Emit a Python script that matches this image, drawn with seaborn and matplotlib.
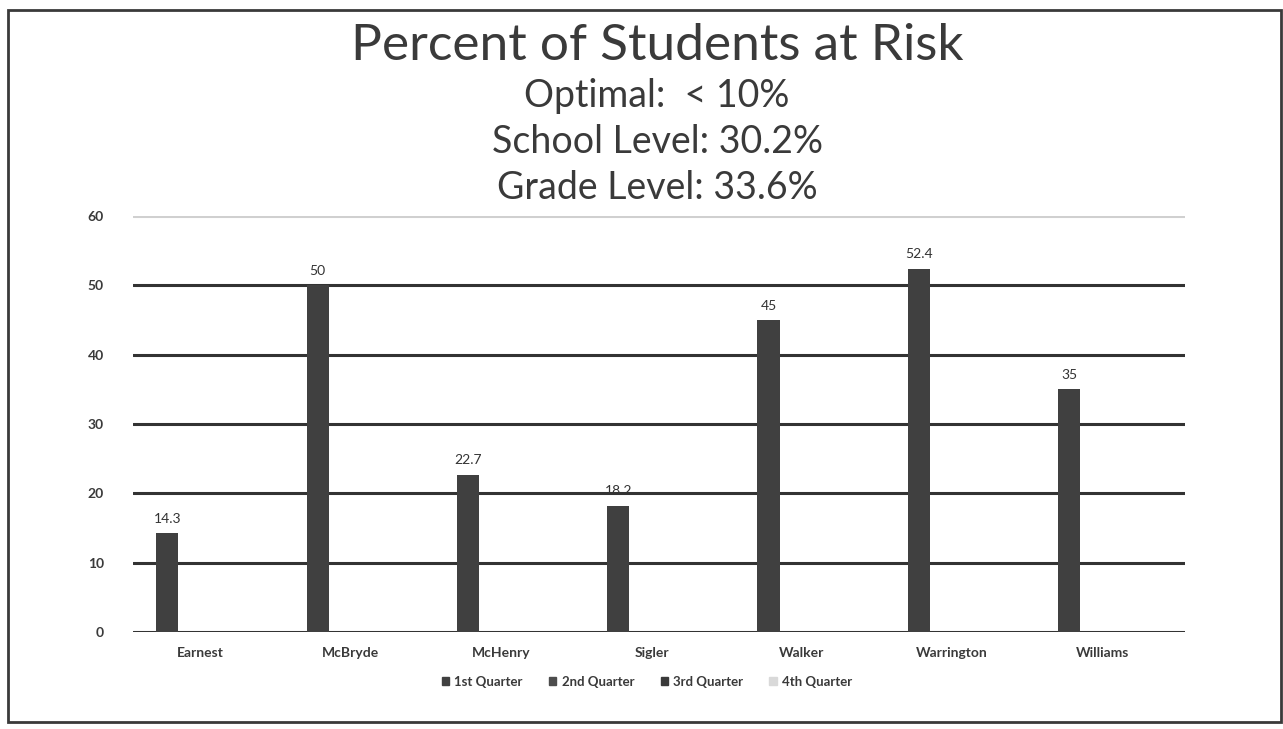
import matplotlib
matplotlib.use("Agg")
import matplotlib.pyplot as plt
import matplotlib.patches as mpatches
import numpy as np
import pandas as pd
import seaborn as sns

# School names and quarterly percentages (only Q1 has been reported so far)
schools = ["Earnest", "McBryde", "McHenry", "Sigler", "Walker", "Warrington", "Williams"]
quarters = ["1st Quarter", "2nd Quarter", "3rd Quarter", "4th Quarter"]
q1_values = [14.3, 50, 22.7, 18.2, 45, 52.4, 35]
q2_values = [np.nan] * 7
q3_values = [np.nan] * 7
q4_values = [np.nan] * 7
y_ticks = [0, 10, 20, 30, 40, 50, 60]

title = "Percent of Students at Risk"
subtitle_lines = ["Optimal:  < 10%", "School Level: 30.2%", "Grade Level: 33.6%"]

quarter_colors = ["#404040", "#4d4d4d", "#3a3a3a", "#d9d9d9"]

rows = []
for q, vals in zip(quarters, [q1_values, q2_values, q3_values, q4_values]):
    for s, v in zip(schools, vals):
        rows.append({"School": s, "Quarter": q, "Percent": v})
df = pd.DataFrame(rows)

sns.set_theme(style="white")
plt.rcParams["font.family"] = ["Lato", "DejaVu Sans"]

fig = plt.figure(figsize=(12.83, 7.29), dpi=100)
ax = fig.add_axes([133 / 1283, 1 - 632 / 729, 1052 / 1283, 416 / 729])

sns.barplot(data=df, x="School", y="Percent", hue="Quarter",
            order=schools, hue_order=quarters, palette=quarter_colors,
            width=0.59, ax=ax, legend=False, errorbar=None, zorder=3,
            linewidth=0)

ax.set_ylim(0, 60)
ax.set_yticks(y_ticks)
ax.set_xlim(-0.45, 6.55)
for t in y_ticks:
    ax.axhline(t, color="#d0d0d0" if t == 60 else "#333333",
               lw=2.2, zorder=1)

for spine in ax.spines.values():
    spine.set_visible(False)
ax.tick_params(axis="both", length=0)
ax.tick_params(axis="y", pad=21, labelsize=10, labelcolor="#3a3a3a")
ax.tick_params(axis="x", pad=11, labelsize=10, labelcolor="#3a3a3a")
for lbl in ax.get_yticklabels() + ax.get_xticklabels():
    lbl.set_fontweight("bold")
ax.set_xlabel("")
ax.set_ylabel("")

# Value labels on the first-quarter bars
for container in ax.containers[:1]:
    ax.bar_label(container, labels=[f"{v:g}" for v in q1_values],
                 padding=6, fontsize=10, color="#333333")

# Title block
center_x = 657 / 1283
fig.text(center_x, 1 - 60 / 729, title, ha="center", va="baseline",
         fontsize=37, color="#3a3a3a")
for line, base in zip(subtitle_lines, [107, 153, 199]):
    fig.text(center_x, 1 - base / 729, line, ha="center", va="baseline",
             fontsize=27, color="#3a3a3a")

# Legend below the axis
handles = [mpatches.Patch(color=c, label=q) for c, q in zip(quarter_colors, quarters)]
leg = fig.legend(handles=handles, loc="center", bbox_to_anchor=(647 / 1283, 1 - 682 / 729),
                 ncol=4, frameon=False, fontsize=9.5, handlelength=0.55,
                 handleheight=0.55, handletextpad=0.4, columnspacing=2.0)
for txt in leg.get_texts():
    txt.set_color("#3a3a3a")
    txt.set_fontweight("bold")

# Outer frame around the chart
fig.patches.append(mpatches.Rectangle((8 / 1283, 1 - 722 / 729), 1273 / 1283, 712 / 729,
                                      transform=fig.transFigure, fill=False,
                                      edgecolor="#3a3a3a", lw=2))

fig.savefig("out.png", dpi=100, facecolor="white")
